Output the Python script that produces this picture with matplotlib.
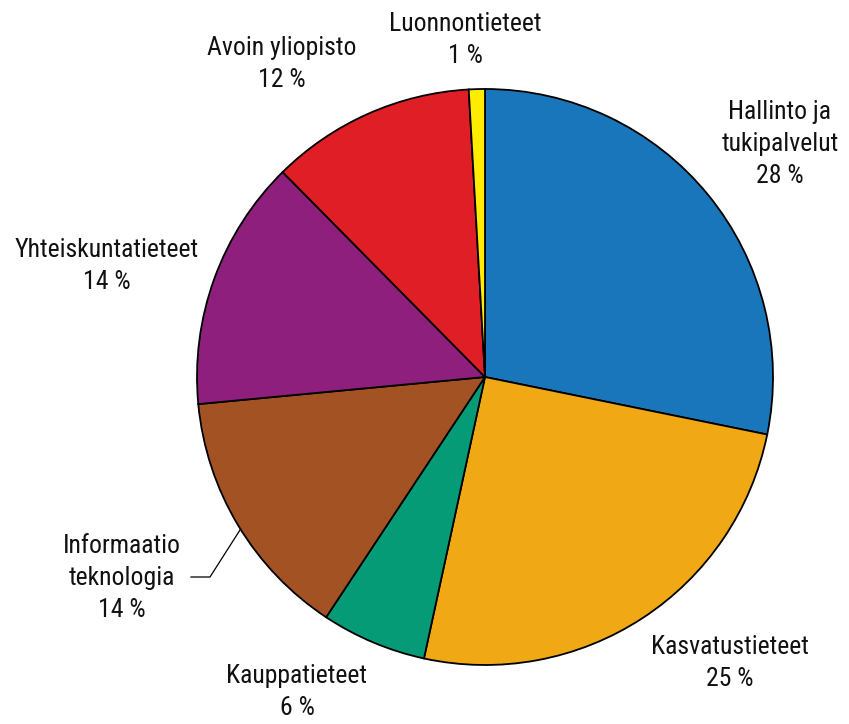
import matplotlib
matplotlib.use("Agg")
import matplotlib.pyplot as plt
from matplotlib import font_manager

# Data
categories = ["Hallinto ja\ntukipalvelut", "Kasvatustieteet", "Kauppatieteet",
              "Informaatio\nteknologia", "Yhteiskuntatieteet", "Avoin yliopisto",
              "Luonnontieteet"]
shares = [28.2, 25.2, 5.9, 14.2, 14.1, 11.5, 0.9]
pct_labels = ["28 %", "25 %", "6 %", "14 %", "14 %", "12 %", "1 %"]
colors = ["#1a76bb", "#f0a815", "#069b77", "#a35223", "#8e1f7d", "#e01e26", "#ffed00"]

# Label positions in pixels (x, y from top)
label_pos = [(780, 144), (730, 663), (297, 692), (122, 578), (107, 266), (282, 64), (465, 40)]

names = {f.name for f in font_manager.fontManager.ttflist}
family = "Roboto Condensed" if "Roboto Condensed" in names else "Roboto"
plt.rcParams["font.family"] = [family, "DejaVu Sans"]

W, H = 849, 724
fig = plt.figure(figsize=(W / 100, H / 100), dpi=100)
ax = fig.add_axes([0, 0, 1, 1])

cx, cy, r = 485, H - 377, 288
ax.pie(shares, colors=colors, startangle=90, counterclock=False,
       center=(cx, cy), radius=r, frame=True,
       wedgeprops=dict(edgecolor="black", linewidth=1.3))
ax.set_xlim(0, W)
ax.set_ylim(0, H)
ax.set_aspect("equal")
ax.axis("off")

for name, pct, (x, y) in zip(categories, pct_labels, label_pos):
    ax.text(x, H - y, name + "\n" + pct, ha="center", va="center",
            fontsize=18.5, color="#111111", linespacing=1.42)

# leader line for Informaatio teknologia
ax.plot([191, 210, 240], [H - 577, H - 577, H - 530], color="black", lw=0.9)

fig.savefig("out.png", dpi=100)
